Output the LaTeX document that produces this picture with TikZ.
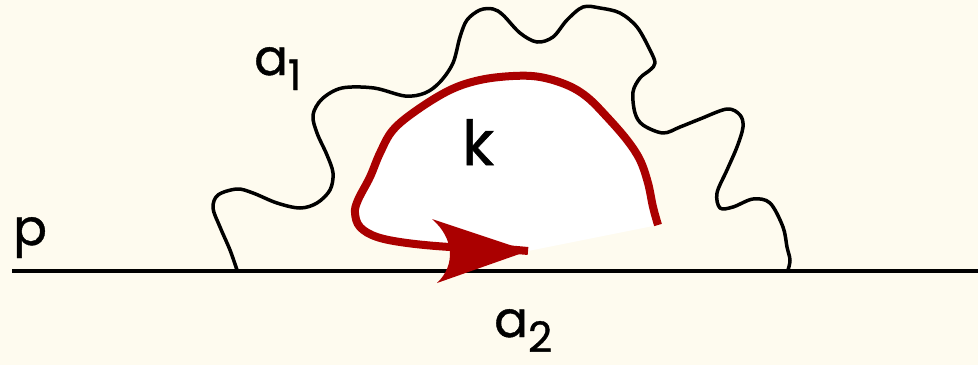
\documentclass[tikz,border=0pt]{standalone}
\usepackage{fontspec}
\setmainfont{Poppins}[UprightFeatures={FakeBold=0.8}]
\usepackage{xcolor}
\usepackage{tikz}
\usetikzlibrary{positioning, arrows.meta}
\definecolor{bgCream}{HTML}{FEFBEF}
\definecolor{kRed}{HTML}{AA0000}
\newcommand{\lblsub}[2]{#1\raisebox{-15pt}{\fontsize{42}{42}\selectfont #2}}

\begin{document}
\begin{tikzpicture}[x=1pt, y=-1pt, >=Stealth,
  lbl/.style={inner sep=0pt, anchor=base west, font=\fontsize{50}{60}\selectfont}]
  \fill[bgCream] (0,0) rectangle (978,365);
  \useasboundingbox (0,0) rectangle (978,365);
  % fermion line
  \coordinate (pl) at (12,271);
  \coordinate (pr) at (978,271);
  \draw[line width=4pt] (pl) -- (pr);
  % photon a1
  \draw[line width=3.5pt, line join=round] plot[smooth, tension=0.55] coordinates {
    (237,270) (230,250) (220,227) (213,208) (218,195) (237,189) (253,193) (277,203)
    (300,208) (317,203) (330,190) (333,173) (327,155) (317,133) (313,115) (322,99)
    (342,88) (374,88) (405,96) (425,93) (440,82) (453,63) (460,37) (467,20) (480,10)
    (493,9) (503,15) (520,33) (537,42) (553,37) (567,20) (583,7) (600,8) (620,13)
    (637,27) (650,50) (655,63) (650,70) (640,78) (633,92) (635,113) (643,125) (663,133)
    (680,127) (700,119) (727,109) (740,115) (743,127) (737,147) (727,170) (717,193)
    (720,208) (733,207) (753,199) (770,203) (783,227) (787,247) (790,260) (788,270)};
  % loop momentum k
  \filldraw[fill=white, draw=kRed, line width=8pt] plot[smooth, tension=0.6] coordinates {
    (658,225) (653,207) (648,183) (640,160) (627,140) (607,117) (587,97) (567,85)
    (540,77) (513,76) (480,80) (450,90) (417,110) (393,130) (380,153) (370,177)
    (358,200) (355,213) (360,227) (377,237) (407,243) (450,247) (490,248) (528,251)};
  \fill[kRed] (528,251) -- (432,219) .. controls (454,238) and (456,265) .. (437,283) -- cycle;
  % labels
  \node[lbl] (p) at (13,245) {p};
  \node[lbl] (aone) at (254,75) {\lblsub{a}{1}};
  \node[lbl, font=\fontsize{62}{70}\selectfont] (k) at (462,165) {k};
  \node[lbl] (atwo) at (494,337) {\lblsub{a}{2}};
\end{tikzpicture}
\end{document}
